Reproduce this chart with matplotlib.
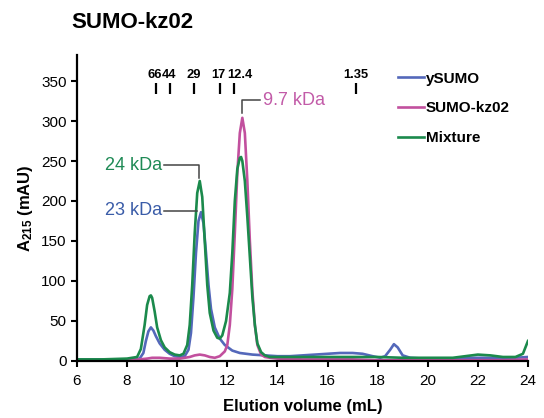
import matplotlib
matplotlib.use("Agg")
import matplotlib.pyplot as plt

plt.rcParams['font.family'] = ['Liberation Sans', 'DejaVu Sans']
plt.rcParams['mathtext.fontset'] = 'custom'
plt.rcParams['mathtext.rm'] = 'Liberation Sans'
plt.rcParams['mathtext.bf'] = 'Liberation Sans:bold'

# ySUMO trace
blue_x = [6.0, 7.0, 8.0, 8.5, 8.65, 8.75, 8.85, 8.95, 9.05, 9.15, 9.3, 9.5, 9.7, 9.9,
          10.1, 10.3, 10.45, 10.55, 10.65, 10.75, 10.85, 10.95, 11.05, 11.15, 11.25,
          11.35, 11.5, 11.7, 11.9, 12.2, 12.5, 13.0, 13.5, 14.0, 14.5, 15.0, 15.5,
          16.0, 16.5, 17.0, 17.4, 17.8, 18.1, 18.3, 18.5, 18.65, 18.8, 19.0, 19.3,
          19.8, 20.5, 21.0, 21.5, 22.0, 22.5, 23.0, 23.5, 24.0]
blue_y = [2, 2, 2, 3, 10, 25, 37, 42, 38, 31, 22, 14, 9, 6,
          5, 6, 14, 35, 80, 135, 175, 186, 172, 135, 95,
          65, 42, 28, 20, 13, 10, 8, 7, 6, 6, 7, 8,
          9, 10, 10, 9, 6, 4, 6, 14, 21, 17, 7, 4,
          3, 3, 3, 4, 4, 4, 4, 4, 5]

# SUMO-kz02 trace
mag_x = [6.0, 7.0, 8.0, 8.5, 8.8, 9.0, 9.3, 9.7, 10.1, 10.5, 10.7, 10.9, 11.1, 11.3,
         11.5, 11.7, 11.9, 12.0, 12.1, 12.2, 12.3, 12.4, 12.5, 12.6, 12.7, 12.8,
         12.9, 13.0, 13.1, 13.2, 13.35, 13.5, 13.7, 14.0, 15.0, 16.0, 17.0, 18.0,
         19.0, 20.0, 21.0, 22.0, 23.0, 24.0]
mag_y = [1, 1, 1, 2, 3, 4, 4, 3, 3, 5, 7, 8, 7, 5,
         4, 6, 12, 20, 45, 90, 160, 235, 285, 304, 285, 225,
         150, 88, 45, 20, 8, 5, 4, 3, 2, 2, 2, 1,
         1, 1, 1, 1, 1, 2]

# Mixture trace
grn_x = [6.0, 7.0, 8.0, 8.4, 8.55, 8.7, 8.8, 8.9, 8.95, 9.0, 9.1, 9.2, 9.35, 9.5,
         9.7, 9.9, 10.1, 10.25, 10.4, 10.5, 10.6, 10.7, 10.8, 10.9, 11.0, 11.1,
         11.2, 11.3, 11.45, 11.6, 11.7, 11.8, 11.95, 12.1, 12.2, 12.3, 12.4, 12.5,
         12.55, 12.6, 12.7, 12.8, 12.9, 13.0, 13.1, 13.2, 13.35, 13.5, 13.7, 14.0,
         15.0, 16.0, 17.0, 18.0, 19.0, 20.0, 21.0, 21.5, 22.0, 22.5, 23.0, 23.5,
         23.8, 24.0]
grn_y = [2, 2, 3, 5, 15, 45, 70, 81, 82, 79, 62, 42, 26, 17,
         11, 8, 7, 9, 20, 45, 95, 160, 210, 225, 205, 150,
         95, 60, 38, 29, 28, 32, 50, 85, 135, 200, 240, 254,
         255, 250, 225, 180, 130, 80, 45, 22, 11, 7, 5, 5,
         5, 5, 5, 5, 4, 4, 4, 6, 8, 7, 5, 5,
         9, 25]

series_names = ['ySUMO', 'SUMO-kz02', 'Mixture']
series_colors = ['#5468BA', '#C2509E', '#1B8A4C']

# molecular weight standards (kDa), their elution positions (mL) and label spots
std_labels = ['66', '44', '29', '17', '12.4', '1.35']
std_pos = [9.14, 9.71, 10.66, 11.69, 12.25, 17.14]
std_label_pos = [9.1, 9.68, 10.66, 11.64, 12.49, 17.14]

fig = plt.figure(figsize=(5.44, 4.18), dpi=100)
ax = fig.add_axes([0.1415, 0.1364, 0.829, 0.732])

for xs, ys, name, c in zip([blue_x, mag_x, grn_x], [blue_y, mag_y, grn_y],
                           series_names, series_colors):
    ax.plot(xs, ys, color=c, lw=1.9, label=name)

for p in std_pos:
    ax.plot([p, p], [334, 347], color='black', lw=1.6, solid_capstyle='butt')
for lab, p in zip(std_labels, std_label_pos):
    ax.text(p, 357, lab, ha='center', va='center', fontsize=9.3, fontweight='bold')

# peak annotations
lead = '#444444'
ax.plot([12.6, 12.6, 13.3], [310, 326, 326], color=lead, lw=1.1)
ax.text(13.42, 326, '9.7 kDa', color='#C25BA8', fontsize=13, va='center', ha='left')
ax.plot([9.47, 10.87, 10.87], [245, 245, 229], color=lead, lw=1.1)
ax.text(9.38, 245, '24 kDa', color='#1E8A55', fontsize=13, va='center', ha='right')
ax.plot([9.47, 10.8], [188, 188], color=lead, lw=1.1)
ax.text(9.38, 188, '23 kDa', color='#3A5CA8', fontsize=13, va='center', ha='right')

ax.set_xlim(6, 24)
ax.set_ylim(0, 382.5)
ax.set_xticks(range(6, 25, 2))
ax.set_yticks(range(0, 351, 50))
ax.tick_params(labelsize=11, width=1.5, length=4)
ax.tick_params(axis='x', pad=5.5)
for s in ['top', 'right']:
    ax.spines[s].set_visible(False)
for s in ['left', 'bottom']:
    ax.spines[s].set_linewidth(1.6)

ax.set_xlabel('Elution volume (mL)', fontsize=12, fontweight='bold', labelpad=8)
ax.set_ylabel(r'$\mathbf{A_{215}}$ (mAU)', fontsize=12, fontweight='bold')
ax.yaxis.set_label_coords(-0.092, 0.5)

leg = ax.legend(loc='upper left', bbox_to_anchor=(0.695, 0.971), frameon=False,
                borderpad=0, handlelength=1.7, handletextpad=0.12, labelspacing=1.03,
                prop={'size': 11, 'weight': 'bold'})

fig.text(0.132, 0.947, 'SUMO-kz02', fontsize=16, fontweight='bold', va='center', ha='left')

fig.savefig('out.png', dpi=100)
